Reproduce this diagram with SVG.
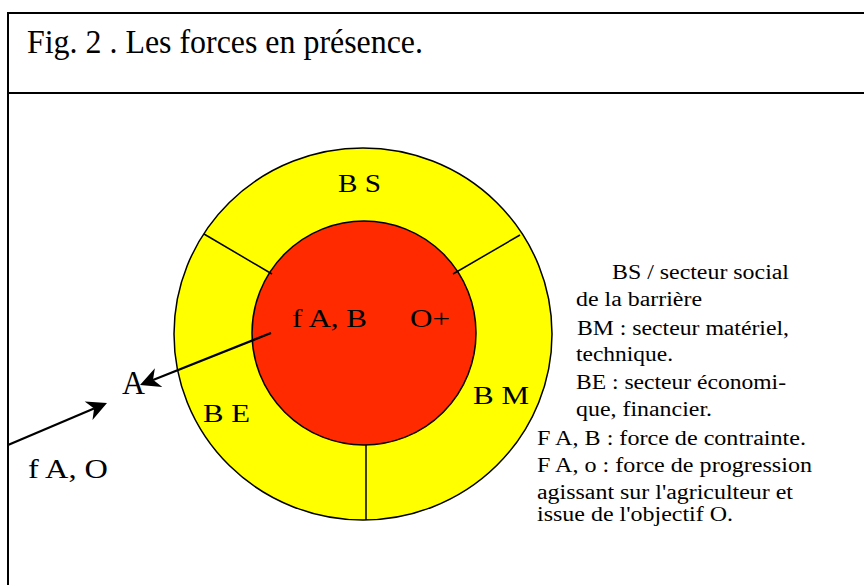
<svg xmlns="http://www.w3.org/2000/svg" width="864" height="585" viewBox="0 0 864 585">
<style>
text{font-family:"Liberation Serif","Times New Roman",serif;fill:#000}
.lg{font-size:20px}
.lb{font-size:26px}
.ln{stroke:#000;stroke-width:1.5;fill:none}
.ar{stroke:#000;stroke-width:2.2;fill:none}
.hd{fill:#000;stroke:none}
</style>
<rect width="864" height="585" fill="#fff"/>
<g id="frame">
<rect x="8" y="13" width="880" height="600" fill="none" stroke="#000" stroke-width="2"/>
<line x1="8" y1="93" x2="864" y2="93" stroke="#000" stroke-width="2"/>
<text id="title" x="27" y="53" font-size="34" textLength="396" lengthAdjust="spacingAndGlyphs">Fig. 2 . Les forces en présence.</text>
</g>
<g id="barrier">
<ellipse cx="363" cy="334" rx="189" ry="186" fill="#FFFF00" stroke="#000" stroke-width="1.5"/>
<text class="lb" x="338" y="192" textLength="43" lengthAdjust="spacingAndGlyphs">B S</text>
<text class="lb" x="473" y="404" textLength="56" lengthAdjust="spacingAndGlyphs">B M</text>
<text class="lb" x="203" y="422" textLength="47" lengthAdjust="spacingAndGlyphs">B E</text>
</g>
<g id="core">
<circle cx="364" cy="333" r="112" fill="#FF2A00" stroke="#000" stroke-width="1.5"/>
<text class="lb" x="292" y="327" textLength="75" lengthAdjust="spacingAndGlyphs">f A, B</text>
<text class="lb" x="410" y="327" textLength="40" lengthAdjust="spacingAndGlyphs">O+</text>
</g>
<g id="nodeA">
<text x="122" y="394" font-size="34" textLength="23" lengthAdjust="spacingAndGlyphs">A</text>
</g>
<g id="labelFAO">
<text x="28" y="478" font-size="28" textLength="80" lengthAdjust="spacingAndGlyphs">f A, O</text>
</g>
<g id="connectors">
<line class="ln" x1="204" y1="234" x2="272" y2="274"/>
<line class="ln" x1="520" y1="235" x2="453" y2="274"/>
<line class="ln" x1="366" y1="445" x2="366" y2="520"/>
<line class="ar" x1="271" y1="333" x2="153" y2="380"/>
<polygon class="hd" points="140,385 154.9,368.3 153,379.8 162.3,386.9"/>
<line class="ar" x1="8" y1="445" x2="94" y2="408.5"/>
<polygon class="hd" points="107,403 92.5,420 94.1,408.5 84.7,401.6"/>
</g>
<g id="legend" class="lg">
<text x="612" y="279" textLength="177" lengthAdjust="spacingAndGlyphs">BS / secteur social</text>
<text x="576" y="306" textLength="126" lengthAdjust="spacingAndGlyphs">de la barrière</text>
<text x="577" y="335" textLength="212" lengthAdjust="spacingAndGlyphs">BM : secteur matériel,</text>
<text x="576" y="361" textLength="97" lengthAdjust="spacingAndGlyphs">technique.</text>
<text x="576" y="389" textLength="210" lengthAdjust="spacingAndGlyphs">BE : secteur économi-</text>
<text x="576" y="416" textLength="136" lengthAdjust="spacingAndGlyphs">que, financier.</text>
<text x="537" y="445" textLength="269" lengthAdjust="spacingAndGlyphs">F A, B : force de contrainte.</text>
<text x="537" y="472" textLength="275" lengthAdjust="spacingAndGlyphs">F A, o : force de progression</text>
<text x="537" y="499" textLength="256" lengthAdjust="spacingAndGlyphs">agissant sur l'agriculteur et</text>
<text x="537" y="521" textLength="196" lengthAdjust="spacingAndGlyphs">issue de l'objectif O.</text>
</g>
</svg>
